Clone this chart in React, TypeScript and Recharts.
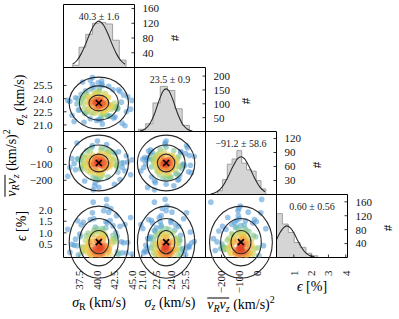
import React from 'react';
import { ComposedChart, Scatter, XAxis, YAxis, ReferenceArea, ReferenceDot, Area, Line } from 'recharts';

const FONT = '"Liberation Serif", "DejaVu Serif", "Times New Roman", serif';
const W = 399;
const H = 319;
const COLS = [63.5, 134.5, 205.5, 276.5, 347.5];
const ROWS = [4.5, 67.5, 131.5, 194.5, 257.5];

// ---------------- posterior samples ----------------
const sigmaR = [
  40.1, 38.7, 41.9, 39.6, 40.8, 42.6, 37.9, 40.4, 39.2, 41.3,
  43.5, 40.0, 38.3, 40.9, 39.8, 41.6, 36.8, 40.6, 42.1, 39.4,
  40.2, 38.9, 41.1, 44.2, 39.9, 40.7, 37.4, 41.8, 40.3, 39.1,
  42.9, 40.5, 38.5, 39.7, 41.4, 40.0, 43.1, 38.1, 40.8, 39.5,
  41.0, 36.2, 40.2, 42.3, 39.3, 40.9, 38.8, 41.7, 40.4, 44.8,
  39.0, 40.6, 37.7, 41.2, 39.8, 42.0, 40.1, 38.4, 41.5, 40.3,
  43.8, 39.6, 40.7, 38.0, 41.0, 39.9, 42.4, 40.5, 37.2, 41.3,
  40.0, 39.4, 43.0, 40.8, 38.6, 41.9, 39.7, 40.2, 42.7, 38.2,
  40.9, 39.2, 41.1, 35.9, 40.4, 42.2, 39.5, 40.6, 38.9, 41.6,
  44.0, 40.1, 39.0, 41.4, 37.6, 40.7, 42.8, 39.8, 40.3, 38.7,
  41.2, 40.0, 43.3, 39.3, 40.5, 37.0, 41.8, 39.6, 40.9, 42.5,
  38.4, 40.2, 41.0, 39.1, 45.0, 40.6, 38.1, 41.5, 39.9, 40.4,
  42.0, 38.8, 40.8, 39.4, 41.3, 36.5, 40.1, 43.6, 39.7, 40.5,
  38.3, 41.7, 40.0, 39.2, 42.3, 40.7, 37.8, 41.1, 39.5, 40.3,
  44.4, 39.0, 40.9, 38.6, 41.4, 40.2, 42.9, 39.8, 37.3, 41.6,
];
const sigmaZ = [
  23.8, 22.6, 23.1, 24.4, 23.5, 21.9, 24.0, 23.3, 25.1, 22.9,
  23.6, 24.7, 22.3, 23.4, 23.0, 24.2, 21.4, 23.7, 22.8, 25.6,
  23.2, 24.1, 23.9, 22.5, 23.5, 26.0, 22.7, 23.3, 24.5, 21.7,
  23.1, 23.8, 22.4, 24.3, 23.6, 22.9, 25.0, 23.4, 21.1, 24.0,
  22.2, 23.7, 24.8, 23.0, 23.5, 22.6, 24.2, 25.4, 23.2, 22.8,
  23.9, 21.6, 23.6, 24.6, 22.4, 23.3, 23.0, 24.9, 22.1, 23.8,
  24.4, 23.1, 22.7, 25.9, 23.5, 23.9, 21.8, 24.1, 23.4, 22.5,
  23.7, 26.4, 22.9, 23.2, 24.3, 22.0, 23.6, 24.7, 23.0, 21.3,
  24.5, 23.3, 22.6, 23.8, 25.2, 23.1, 22.3, 24.0, 23.5, 22.8,
  20.9, 23.9, 24.2, 23.4, 22.7, 25.7, 23.0, 24.6, 22.4, 23.6,
  23.2, 21.5, 24.8, 23.7, 22.9, 24.1, 23.3, 25.3, 22.2, 23.5,
  24.4, 23.0, 22.5, 26.1, 23.8, 21.9, 24.0, 23.4, 22.7, 24.9,
  23.1, 22.8, 25.5, 23.6, 24.3, 22.1, 23.5, 21.2, 24.6, 23.2,
  22.9, 24.1, 23.7, 22.4, 25.0, 23.3, 24.5, 22.6, 23.9, 21.6,
  24.2, 23.0, 22.3, 24.7, 23.4, 25.8, 22.8, 23.6, 24.0, 22.0,
];
const vRvZ = [
  -85, -140, -52, -98, -170, -30, -110, -75, -125, -5,
  -92, -60, -205, -88, -115, -40, -95, -150, -70, 20,
  -100, -130, -80, -45, -190, -105, -65, -90, -160, -15,
  -118, -78, -55, -235, -95, -135, -20, -102, -68, -180,
  -88, -120, -48, -93, 10, -145, -72, -108, -35, -165,
  -96, -58, -128, -82, -215, -100, -62, -112, -25, -155,
  -90, -138, -76, -44, -108, -185, -66, -97, 35, -122,
  -84, -50, -148, -94, -12, -116, -70, -198, -104, -56,
  -132, -87, -38, -175, -99, -64, -260, -110, -80, -28,
  -142, -92, -54, -124, -74, 5, -106, -158, -86, -42,
  -118, -68, -195, -97, -60, -134, -18, -101, -79, -225,
  -89, -46, -113, -152, -71, -8, -127, -93, -57, -168,
  -103, -83, -32, -143, -95, -63, 48, -119, -77, -188,
  -91, -51, -136, -107, -22, -162, -73, -98, -40, -245,
  -85, -126, -59, -111, 25, -147, -81, -100, -66, -178,
];
const eps = [
  0.21, 0.55, 0.08, 1.12, 0.37, 0.74, 0.15, 0.92, 0.29, 1.48,
  0.62, 0.04, 0.33, 0.81, 1.25, 0.18, 0.47, 0.11, 0.69, 1.86,
  0.26, 0.58, 0.96, 0.13, 0.41, 1.03, 0.06, 0.31, 0.77, 1.57,
  0.19, 0.50, 0.88, 0.24, 2.15, 0.65, 0.09, 0.38, 1.19, 0.28,
  0.72, 0.16, 0.53, 1.31, 0.02, 0.44, 0.99, 0.22, 0.60, 1.66,
  0.12, 0.35, 0.84, 0.27, 1.08, 0.49, 0.07, 0.67, 1.42, 0.20,
  0.57, 0.93, 0.14, 0.39, 1.95, 0.30, 0.76, 0.05, 0.45, 1.22,
  0.25, 0.63, 0.10, 0.86, 0.34, 1.53, 0.17, 0.52, 1.01, 0.23,
  0.70, 0.03, 0.42, 1.15, 0.32, 0.59, 2.32, 0.13, 0.80, 0.48,
  1.36, 0.21, 0.66, 0.08, 0.95, 0.36, 1.74, 0.27, 0.54, 0.11,
  0.89, 0.19, 1.28, 0.46, 0.01, 0.73, 0.30, 1.61, 0.15, 0.61,
  0.40, 1.06, 0.24, 0.56, 0.09, 0.83, 1.45, 0.33, 0.18, 0.68,
  2.05, 0.43, 0.06, 0.97, 0.26, 0.51, 1.18, 0.14, 0.78, 0.37,
  0.22, 1.89, 0.64, 0.04, 0.90, 0.31, 1.34, 0.50, 0.12, 0.75,
  0.58, 0.17, 1.10, 0.28, 2.44, 0.44, 0.85, 0.07, 1.52, 0.35,
];
const samples = [sigmaR, sigmaZ, vRvZ, eps];

// ---------------- summaries ----------------
const means = [40.3, 23.5, -91.2, 0.6];
const statLabels = ['40.3 \u00b1 1.6', '23.5 \u00b1 0.9', '\u221291.2 \u00b1 58.6', '0.60 \u00b1 0.56'];
const contourRadii = [
  [1.4, 2.75, 4.2],
  [0.9, 1.95, 2.95],
  [56, 114, 176],
  [0.5, 1.02, 1.55],
];
const colourCentre = [40.3, 23.5, -91, 0.35];
const colourScale = [1.6, 0.9, 58, 0.5];

// ---------------- histograms ----------------
const histEdges = [
  [36.55, 37.5, 38.45, 39.4, 40.35, 41.3, 42.25, 43.2, 44.15],
  [20.65, 21.4, 22.15, 22.9, 23.65, 24.4, 25.15, 25.9],
  [-222, -195, -168, -141, -114, -87, -60, -33, -6, 21, 48],
  [0, 0.34, 0.68, 1.02, 1.36, 1.7, 2.04, 2.38],
];
const histCounts = [
  [6, 55, 90, 120, 122, 118, 74, 20],
  [8, 28, 103, 163, 148, 82, 22],
  [8, 32, 65, 76, 94, 67, 53, 50, 30, 12],
  [126, 96, 72, 43, 29, 12, 5],
];
const curveX = [
  [36.6, 37.2, 37.8, 38.4, 39.0, 39.6, 40.3, 41.0, 41.6, 42.2, 42.8, 43.4, 44.0],
  [20.8, 21.3, 21.8, 22.3, 22.8, 23.2, 23.5, 23.8, 24.2, 24.7, 25.2, 25.7, 26.2],
  [-260, -225, -195, -165, -135, -110, -91, -72, -47, -17, 13, 43],
  [0, 0.2, 0.4, 0.6, 0.8, 1.0, 1.2, 1.4, 1.6, 1.8, 2.0, 2.2],
];
const curveY = [
  [9, 19, 37, 62, 91, 114, 126, 114, 91, 62, 37, 19, 9],
  [2, 8, 26, 63, 114, 146, 154, 146, 114, 63, 26, 8, 2],
  [1, 6, 17, 37, 61, 77, 81, 77, 61, 37, 17, 6],
  [51, 71, 85, 91, 85, 71, 51, 33, 18, 9, 4, 2],
];

// ---------------- axes ----------------
const paramDomains: [number, number][] = [[35.3, 45.35], [20.25, 27.55], [-290, 108], [-0.06, 2.65]];
const paramTicks = [[37.5, 40, 42.5, 45], [21, 22.5, 24, 25.5], [-200, -100, 0], [0.5, 1, 1.5, 2]];
const epsHistDomain: [number, number] = [0, 4.1];
const epsHistTicks = [1, 2, 3, 4];
const histDomains: [number, number][] = [[0, 171], [0, 231], [0, 135], [0, 181]];
const histTicks = [[40, 80, 120, 160], [50, 100, 150, 200], [30, 60, 90, 120], [40, 80, 120, 160]];

const fmt1 = (v: number) => v.toFixed(1);
const fmtInt = (v: number) => (v < 0 ? '\u2212' + Math.abs(v) : String(v));
const colFmt = [fmt1, fmt1, fmtInt, fmtInt];
const rowFmt = [fmt1, fmt1, fmtInt, fmt1];
const colDomain = (c: number) => (c === 3 ? epsHistDomain : paramDomains[c]);
const colTicks = (c: number) => (c === 3 ? epsHistTicks : paramTicks[c]);

const AXIS_LINE = { stroke: '#000', strokeWidth: 1 };
const TICK_LINE = { stroke: '#000', strokeWidth: 0.8 };
const TICK_FONT = 11;

const colourStops: [number, number[]][] = [
  [0.0, [220, 55, 38]],
  [0.4, [238, 110, 55]],
  [0.75, [246, 170, 70]],
  [1.1, [234, 215, 95]],
  [1.45, [160, 208, 110]],
  [1.75, [105, 188, 170]],
  [2.05, [88, 158, 216]],
];
function densityColour(d: number) {
  if (d <= colourStops[0][0]) return `rgb(${colourStops[0][1].join(',')})`;
  for (let i = 1; i < colourStops.length; i++) {
    const [d1, c1] = colourStops[i];
    const [d0, c0] = colourStops[i - 1];
    if (d <= d1) {
      const t = (d - d0) / (d1 - d0);
      const c = c0.map((v, k) => Math.round(v + (c1[k] - v) * t));
      return `rgb(${c.join(',')})`;
    }
  }
  return `rgb(${colourStops[colourStops.length - 1][1].join(',')})`;
}

function panelPoints(px: number, py: number) {
  const xs = samples[px];
  const ys = samples[py];
  const pts = xs.map((xv, i) => {
    const dx = (xv - colourCentre[px]) / colourScale[px];
    const dy = (ys[i] - colourCentre[py]) / colourScale[py];
    const d = Math.sqrt(dx * dx + dy * dy);
    return { x: xv, y: ys[i], d, fill: densityColour(d) };
  });
  pts.sort((a, b) => b.d - a.d);
  return pts;
}

const RotTick = (props: any) => {
  const { x, y, payload, fmt } = props;
  return (
    <text transform={`translate(${x},${y + 5}) rotate(-90)`} textAnchor="end" dy="0.35em" fontSize={TICK_FONT} fontFamily={FONT} fill="#111">
      {fmt(payload.value)}
    </text>
  );
};

function marginFor(r: number, c: number) {
  return { top: ROWS[r] - 1, bottom: H - ROWS[r + 1] - 1, left: COLS[c] - 1, right: W - COLS[c + 1] - 1 };
}
function plotMargin(r: number, c: number) {
  return { top: ROWS[r], bottom: H - ROWS[r + 1], left: COLS[c], right: W - COLS[c + 1] };
}

function xAxesFor(c: number, showLabels: boolean) {
  const domain = colDomain(c);
  const ticks = colTicks(c);
  const fmt = colFmt[c];
  return [
    <XAxis key="xb" xAxisId="b" orientation="bottom" type="number" dataKey="x" domain={domain} ticks={ticks} interval={0}
      allowDataOverflow height={1} tickSize={-3} tickMargin={11} axisLine={AXIS_LINE} tickLine={TICK_LINE}
      tick={showLabels ? (p: any) => <RotTick {...p} fmt={fmt} /> : false} />,
    <XAxis key="xt" xAxisId="t" orientation="top" type="number" dataKey="x" domain={domain} ticks={ticks} interval={0}
      allowDataOverflow height={1} tickSize={-3} axisLine={AXIS_LINE} tickLine={TICK_LINE} tick={false} />,
  ];
}

function ScatterPanel({ r, c }: { r: number; c: number }) {
  const pts = panelPoints(c, r);
  const yDomain = paramDomains[r];
  const yTicks = paramTicks[r];
  const fmt = rowFmt[r];
  const mx = means[c];
  const my = means[r];
  return (
    <>
      <div style={{ position: 'absolute', left: 0, top: 0 }}>
        <ComposedChart width={W} height={H} margin={marginFor(r, c)}>
          {xAxesFor(c, r === 3)}
          <YAxis yAxisId="l" orientation="left" type="number" dataKey="y" domain={yDomain} ticks={yTicks} interval={0}
            allowDataOverflow width={1} tickSize={-3} tickMargin={14} axisLine={AXIS_LINE} tickLine={TICK_LINE}
            tickFormatter={fmt}
            tick={c === 0 ? { fontSize: TICK_FONT, fill: '#111', fontFamily: FONT } : false} />
          <YAxis yAxisId="r" orientation="right" type="number" dataKey="y" domain={yDomain} ticks={yTicks} interval={0}
            allowDataOverflow width={1} tickSize={-3} axisLine={AXIS_LINE} tickLine={TICK_LINE} tick={false} />
          <Scatter xAxisId="b" yAxisId="l" data={pts} isAnimationActive={false}
            shape={(p: any) => <circle cx={p.cx} cy={p.cy} r={2.8} fill={p.payload.fill} fillOpacity={0.6} />} />
        </ComposedChart>
      </div>
      <div style={{ position: 'absolute', left: 0, top: 0 }}>
        <ComposedChart width={W} height={H} margin={plotMargin(r, c)}>
          <XAxis xAxisId="b" type="number" dataKey="x" domain={colDomain(c)} allowDataOverflow hide />
          <YAxis yAxisId="l" type="number" dataKey="y" domain={yDomain} allowDataOverflow hide />
          {contourRadii[c].map((rx, k) => (
            <ReferenceArea key={k} xAxisId="b" yAxisId="l" x1={mx - rx} x2={mx + rx}
              y1={my - contourRadii[r][k]} y2={my + contourRadii[r][k]} ifOverflow="hidden"
              shape={(p: any) => (
                <ellipse cx={p.x + p.width / 2} cy={p.y + p.height / 2} rx={Math.abs(p.width / 2)} ry={Math.abs(p.height / 2)}
                  fill="none" stroke="#2a2a2a" strokeWidth={1.1} />
              )} />
          ))}
          <ReferenceDot xAxisId="b" yAxisId="l" x={mx} y={my} ifOverflow="visible"
            shape={(p: any) => (
              <g stroke="#000" strokeWidth={1.6}>
                <line x1={p.cx - 3} y1={p.cy - 3} x2={p.cx + 3} y2={p.cy + 3} />
                <line x1={p.cx - 3} y1={p.cy + 3} x2={p.cx + 3} y2={p.cy - 3} />
              </g>
            )} />
        </ComposedChart>
      </div>
    </>
  );
}

function HistPanel({ i }: { i: number }) {
  const edges = histEdges[i];
  const counts = histCounts[i];
  const steps = [{ x: edges[0], c: 0 }, ...edges.map((e, k) => ({ x: e, c: k < counts.length ? counts[k] : 0 }))];
  const curve = curveX[i].map((x, k) => ({ x, c: curveY[i][k] }));
  return (
    <div style={{ position: 'absolute', left: 0, top: 0 }}>
      <ComposedChart width={W} height={H} margin={marginFor(i, i)}>
        {xAxesFor(i, i === 3)}
        <YAxis yAxisId="l" orientation="left" type="number" domain={histDomains[i]} ticks={histTicks[i]} interval={0}
          allowDataOverflow width={1} axisLine={AXIS_LINE} tickLine={false} tick={false} />
        <YAxis yAxisId="r" orientation="right" type="number" domain={histDomains[i]} ticks={histTicks[i]} interval={0}
          allowDataOverflow width={1} tickSize={-3} tickMargin={11} axisLine={AXIS_LINE} tickLine={TICK_LINE}
          tick={{ fontSize: TICK_FONT, fill: '#111', fontFamily: FONT }} />
        <Area xAxisId="b" yAxisId="l" data={steps} dataKey="c" type="stepAfter" fill="#d5d5d5" fillOpacity={1}
          stroke="#a0a0a0" strokeWidth={1} isAnimationActive={false} dot={false} activeDot={false} />
        <Line xAxisId="b" yAxisId="l" data={curve} dataKey="c" type="monotone" stroke="#2a2a2a" strokeWidth={1.1}
          dot={false} activeDot={false} isAnimationActive={false} />
      </ComposedChart>
    </div>
  );
}

const baseText: React.CSSProperties = {
  position: 'absolute', fontFamily: FONT, fontSize: 14, lineHeight: '16px', whiteSpace: 'nowrap', color: '#000',
};
const CENTER = 'translate(-50%,-50%)';
const ROT = 'translate(-50%,-50%) rotate(-90deg)';
const Sub = ({ children }: any) => <span style={{ fontSize: 10, position: 'relative', top: 3 }}>{children}</span>;
const Sup = ({ children }: any) => <span style={{ fontSize: 10, position: 'relative', top: -6 }}>{children}</span>;
const I = ({ children }: any) => <span style={{ fontStyle: 'italic' }}>{children}</span>;
const VRVZ = () => (
  <span style={{ display: 'inline-block', borderTop: '1px solid #000', lineHeight: '11px', paddingTop: 0 }}>
    <I>v</I><Sub><I>R</I></Sub><I>v</I><Sub><I>z</I></Sub>
  </span>
);

function Titles() {
  const cx = (k: number) => (COLS[k] + COLS[k + 1]) / 2;
  const cy = (k: number) => (ROWS[k] + ROWS[k + 1]) / 2;
  return (
    <>
      <div style={{ ...baseText, left: cx(0), top: 303, transform: CENTER }}><I>σ</I><Sub>R</Sub> (km/s)</div>
      <div style={{ ...baseText, left: cx(1), top: 303, transform: CENTER }}><I>σ</I><Sub><I>z</I></Sub> (km/s)</div>
      <div style={{ ...baseText, left: cx(2), top: 305, transform: CENTER }}><VRVZ /> (km/s)<Sup>2</Sup></div>
      <div style={{ ...baseText, left: cx(3), top: 287, transform: CENTER }}><I>ϵ</I> [%]</div>

      <div style={{ ...baseText, left: 20, top: cy(1), transform: ROT }}><I>σ</I><Sub><I>z</I></Sub> (km/s)</div>
      <div style={{ ...baseText, left: 12, top: cy(2), transform: ROT }}><VRVZ /> (km/s)<Sup>2</Sup></div>
      <div style={{ ...baseText, left: 22, top: cy(3), transform: ROT }}><I>ϵ</I> [%]</div>

      {statLabels.map((s, k) => (
        <div key={'s' + k} style={{ ...baseText, fontSize: 10, color: '#222', left: cx(k), top: ROWS[k] + 12.5, transform: CENTER }}>{s}</div>
      ))}
      {[0, 1, 2, 3].map((k) => (
        <div key={'h' + k} style={{ ...baseText, fontSize: 13, left: COLS[k + 1] + 40.5, top: cy(k) + 1.5, transform: ROT }}>#</div>
      ))}
    </>
  );
}

export default function App() {
  const panels: React.ReactNode[] = [];
  for (let r = 0; r < 4; r++) {
    for (let c = 0; c <= r; c++) {
      panels.push(r === c ? <HistPanel key={`h${r}`} i={r} /> : <ScatterPanel key={`s${r}${c}`} r={r} c={c} />);
    }
  }
  return (
    <div style={{ position: 'absolute', left: 0, top: 0, width: W, height: H, background: '#fff', overflow: 'hidden' }}>
      {panels}
      <Titles />
    </div>
  );
}
